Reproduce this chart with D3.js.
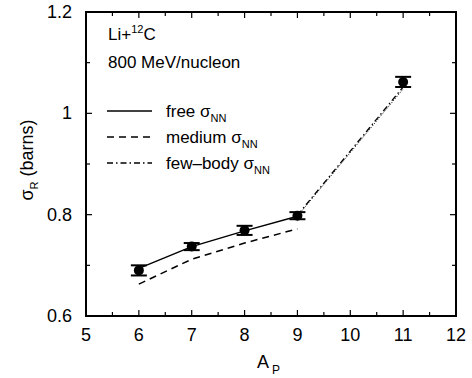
<!DOCTYPE html>
<html>
<head>
<meta charset="utf-8">
<script src="https://cdn.jsdelivr.net/npm/d3@7"></script>
<style>
  body { margin: 0; background: #fff; }
  text { font-family: "Liberation Sans", Arial, sans-serif; fill: #000; }
</style>
</head>
<body>
<div id="chart"></div>
<script>
// measured points
const massNumbers = [6, 7, 8, 9, 11];
const sigmaExp = [0.690, 0.737, 0.769, 0.798, 1.062];
const sigmaErr = [0.010, 0.007, 0.009, 0.007, 0.010];

// calculations
const freeA = [6, 7, 8, 9];
const freeSigma = [0.694, 0.737, 0.768, 0.797];
const freeExtA = [9, 11];
const freeExtSigma = [0.797, 1.048];
const mediumA = [6, 7, 8, 9];
const mediumSigma = [0.663, 0.712, 0.744, 0.772];
const fewBodyA = [9, 11];
const fewBodySigma = [0.799, 1.052];

const xTicks = [5, 6, 7, 8, 9, 10, 11, 12];
const yTicks = [0.6, 0.8, 1.0, 1.2];

const width = 472, height = 378;
const margin = {top: 12, right: 16, bottom: 62, left: 86};

const svg = d3.select("#chart").append("svg")
    .attr("width", width)
    .attr("height", height);

const x = d3.scaleLinear().domain([5, 12]).range([margin.left, width - margin.right]);
const y = d3.scaleLinear().domain([0.6, 1.2]).range([height - margin.bottom, margin.top]);

// ticks on all four sides, pointing inwards
const tickG = svg.append("g").attr("stroke", "#000").attr("stroke-width", 1.2);
const xMinor = d3.range(5, 12.01, 0.5);
const yMinor = d3.range(0.6, 1.201, 0.1);
xMinor.forEach(v => {
    const len = Number.isInteger(v) ? 6 : 4;
    tickG.append("line").attr("x1", x(v)).attr("x2", x(v)).attr("y1", y(0.6)).attr("y2", y(0.6) - len);
    tickG.append("line").attr("x1", x(v)).attr("x2", x(v)).attr("y1", y(1.2)).attr("y2", y(1.2) + len);
});
yMinor.forEach((v, i) => {
    const len = i % 2 === 0 ? 6 : 4;
    tickG.append("line").attr("x1", x(5)).attr("x2", x(5) + len).attr("y1", y(v)).attr("y2", y(v));
    tickG.append("line").attr("x1", x(12)).attr("x2", x(12) - len).attr("y1", y(v)).attr("y2", y(v));
});

svg.append("rect")
    .attr("x", x(5)).attr("y", y(1.2))
    .attr("width", x(12) - x(5)).attr("height", y(0.6) - y(1.2))
    .attr("fill", "none").attr("stroke", "#000").attr("stroke-width", 2);

svg.append("g").selectAll("text")
    .data(xTicks).join("text")
    .attr("x", d => x(d)).attr("y", height - margin.bottom + 25)
    .attr("text-anchor", "middle").attr("font-size", 18)
    .text(d => d);

svg.append("g").selectAll("text")
    .data(yTicks).join("text")
    .attr("x", margin.left - 14).attr("y", d => y(d) + 6)
    .attr("text-anchor", "end").attr("font-size", 18)
    .text(d => d === 1 ? "1" : d.toFixed(1));

// axis titles
const xt = svg.append("text").attr("x", 257).attr("y", 368).attr("font-size", 18);
xt.append("tspan").text("A");
xt.append("tspan").attr("dx", 3).attr("dy", 6).attr("font-size", 12).text("P");

const yt = svg.append("text")
    .attr("transform", "translate(33,160) rotate(-90)")
    .attr("text-anchor", "middle").attr("font-size", 18);
yt.append("tspan").text("σ");
yt.append("tspan").attr("dy", 5).attr("font-size", 11).text("R");
yt.append("tspan").attr("dy", -5).text("  (barns)");

// lines
const line = d3.line().x(d => x(d[0])).y(d => y(d[1]));
const zip = (a, b) => a.map((v, i) => [v, b[i]]);

svg.append("path").datum(zip(mediumA, mediumSigma))
    .attr("d", line).attr("fill", "none").attr("stroke", "#000")
    .attr("stroke-width", 1.5).attr("stroke-dasharray", "7,5");
svg.append("path").datum(zip(freeA, freeSigma))
    .attr("d", line).attr("fill", "none").attr("stroke", "#000").attr("stroke-width", 1.5);
svg.append("path").datum(zip(freeExtA, freeExtSigma))
    .attr("d", line).attr("fill", "none").attr("stroke", "#000")
    .attr("stroke-width", 1).attr("stroke-dasharray", "1,1.5");
svg.append("path").datum(zip(fewBodyA, fewBodySigma))
    .attr("d", line).attr("fill", "none").attr("stroke", "#000")
    .attr("stroke-width", 1.3).attr("stroke-dasharray", "6,3,1.5,3");

// data points with error bars
const pts = svg.append("g").selectAll("g")
    .data(massNumbers.map((a, i) => ({a, s: sigmaExp[i], e: sigmaErr[i]})))
    .join("g");
pts.append("line")
    .attr("x1", d => x(d.a)).attr("x2", d => x(d.a))
    .attr("y1", d => y(d.s - d.e)).attr("y2", d => y(d.s + d.e))
    .attr("stroke", "#000").attr("stroke-width", 2);
[-1, 1].forEach(sgn => {
    pts.append("line")
        .attr("x1", d => x(d.a) - 8).attr("x2", d => x(d.a) + 8)
        .attr("y1", d => y(d.s + sgn * d.e)).attr("y2", d => y(d.s + sgn * d.e))
        .attr("stroke", "#000").attr("stroke-width", 2);
});
pts.append("circle")
    .attr("cx", d => x(d.a)).attr("cy", d => y(d.s)).attr("r", 5)
    .attr("fill", "#000");

// annotation
const t1 = svg.append("text").attr("x", 108).attr("y", 40).attr("font-size", 17);
t1.append("tspan").text("Li+");
t1.append("tspan").attr("dy", -7).attr("font-size", 11).text("12");
t1.append("tspan").attr("dy", 7).text("C");
svg.append("text").attr("x", 108).attr("y", 68).attr("font-size", 17).text("800 MeV/nucleon");

// legend
const legendRows = [
    {label: "free", dash: null},
    {label: "medium", dash: "7,5"},
    {label: "few\u2013body", dash: "6,3,1.5,3"}
];
const leg = svg.append("g").selectAll("g")
    .data(legendRows).join("g")
    .attr("transform", (d, i) => `translate(0,${111 + i * 26})`);
leg.append("line")
    .attr("x1", 107).attr("x2", 152).attr("y1", 0).attr("y2", 0)
    .attr("stroke", "#000").attr("stroke-width", 1.5)
    .attr("stroke-dasharray", d => d.dash);
const lt = leg.append("text").attr("x", 166).attr("y", 6).attr("font-size", 17);
lt.append("tspan").text(d => d.label + " σ");
lt.append("tspan").attr("dy", 5).attr("font-size", 11).text("NN");
</script>
</body>
</html>
